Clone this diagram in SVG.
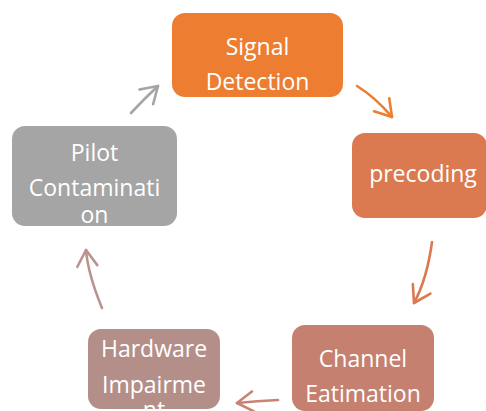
<svg xmlns="http://www.w3.org/2000/svg" width="486" height="411" viewBox="0 0 486 411">
  <style>
    .box { stroke: none; }
    .lbl { font-family: "Open Sans", "Noto Sans", sans-serif; font-size: 23px; fill: #ffffff; text-anchor: middle; }
    .arrow { fill: none; stroke-width: 2.6; stroke-linecap: round; stroke-linejoin: round; }
  </style>
  <defs>
    <marker id="head-orange" markerUnits="userSpaceOnUse" orient="auto" markerWidth="40" markerHeight="40" refX="0" refY="0" viewBox="-20 -20 40 40" overflow="visible">
      <path d="M-16,-10 L0,0 L-16,10" fill="none" stroke="#ED7D31" stroke-width="2.6" stroke-linecap="round" stroke-linejoin="round"/>
    </marker>
    <marker id="head-coral" markerUnits="userSpaceOnUse" orient="auto" markerWidth="40" markerHeight="40" refX="0" refY="0" viewBox="-20 -20 40 40" overflow="visible">
      <path d="M-16,-10 L0,0 L-16,10" fill="none" stroke="#DB7A50" stroke-width="2.6" stroke-linecap="round" stroke-linejoin="round"/>
    </marker>
    <marker id="head-rose" markerUnits="userSpaceOnUse" orient="auto" markerWidth="40" markerHeight="40" refX="0" refY="0" viewBox="-20 -20 40 40" overflow="visible">
      <path d="M-16,-10 L0,0 L-16,10" fill="none" stroke="#C98372" stroke-width="2.6" stroke-linecap="round" stroke-linejoin="round"/>
    </marker>
    <marker id="head-mauve" markerUnits="userSpaceOnUse" orient="auto" markerWidth="40" markerHeight="40" refX="0" refY="0" viewBox="-20 -20 40 40" overflow="visible">
      <path d="M-16,-10 L0,0 L-16,10" fill="none" stroke="#B8948D" stroke-width="2.6" stroke-linecap="round" stroke-linejoin="round"/>
    </marker>
    <marker id="head-grey" markerUnits="userSpaceOnUse" orient="auto" markerWidth="40" markerHeight="40" refX="0" refY="0" viewBox="-20 -20 40 40" overflow="visible">
      <path d="M-16,-10 L0,0 L-16,10" fill="none" stroke="#A5A5A5" stroke-width="2.6" stroke-linecap="round" stroke-linejoin="round"/>
    </marker>
  </defs>

  <rect width="486" height="411" fill="#ffffff"/>

  <!-- cycle connectors -->
  <g id="connectors">
    <path class="arrow" stroke="#ED7D31" d="M357,86 Q375,97 392,117" marker-end="url(#head-orange)"/>
    <path class="arrow" stroke="#DB7A50" d="M432,242 Q427,279 414,303" marker-end="url(#head-coral)"/>
    <path class="arrow" stroke="#C98372" d="M278,400 Q257,401 237,403" marker-end="url(#head-rose)"/>
    <path class="arrow" stroke="#B8948D" d="M102,308 Q88,274 86,250" marker-end="url(#head-mauve)"/>
    <path class="arrow" stroke="#A5A5A5" d="M131,113 Q144,99 158,86" marker-end="url(#head-grey)"/>
  </g>

  <g id="signal-detection">
    <rect class="box" x="172" y="13" width="171" height="84" rx="13" fill="#ED7D31"/>
    <text class="lbl" x="257.5" y="54.5">Signal</text>
    <text class="lbl" x="257.5" y="89.5">Detection</text>
  </g>

  <g id="precoding">
    <rect class="box" x="352" y="133" width="135" height="85" rx="13" fill="#DB7A50"/>
    <text class="lbl" x="423" y="182">precoding</text>
  </g>

  <g id="channel-estimation">
    <rect class="box" x="292" y="325" width="142" height="86" rx="13" fill="#C5806F"/>
    <text class="lbl" x="363" y="366.7">Channel</text>
    <text class="lbl" x="363" y="401.7">Eatimation</text>
  </g>

  <g id="hardware-impairment">
    <rect class="box" x="88" y="329" width="132" height="80" rx="13" fill="#B48F89"/>
    <text class="lbl" x="154" y="356.7">Hardware</text>
    <text class="lbl" x="154" y="392.7">Impairme</text>
    <text class="lbl" x="154" y="418">nt</text>
  </g>

  <g id="pilot-contamination">
    <rect class="box" x="12" y="126" width="165" height="100" rx="13" fill="#A5A5A5"/>
    <text class="lbl" x="94.5" y="160.7">Pilot</text>
    <text class="lbl" x="94.5" y="196">Contaminati</text>
    <text class="lbl" x="94.5" y="223">on</text>
  </g>
</svg>
